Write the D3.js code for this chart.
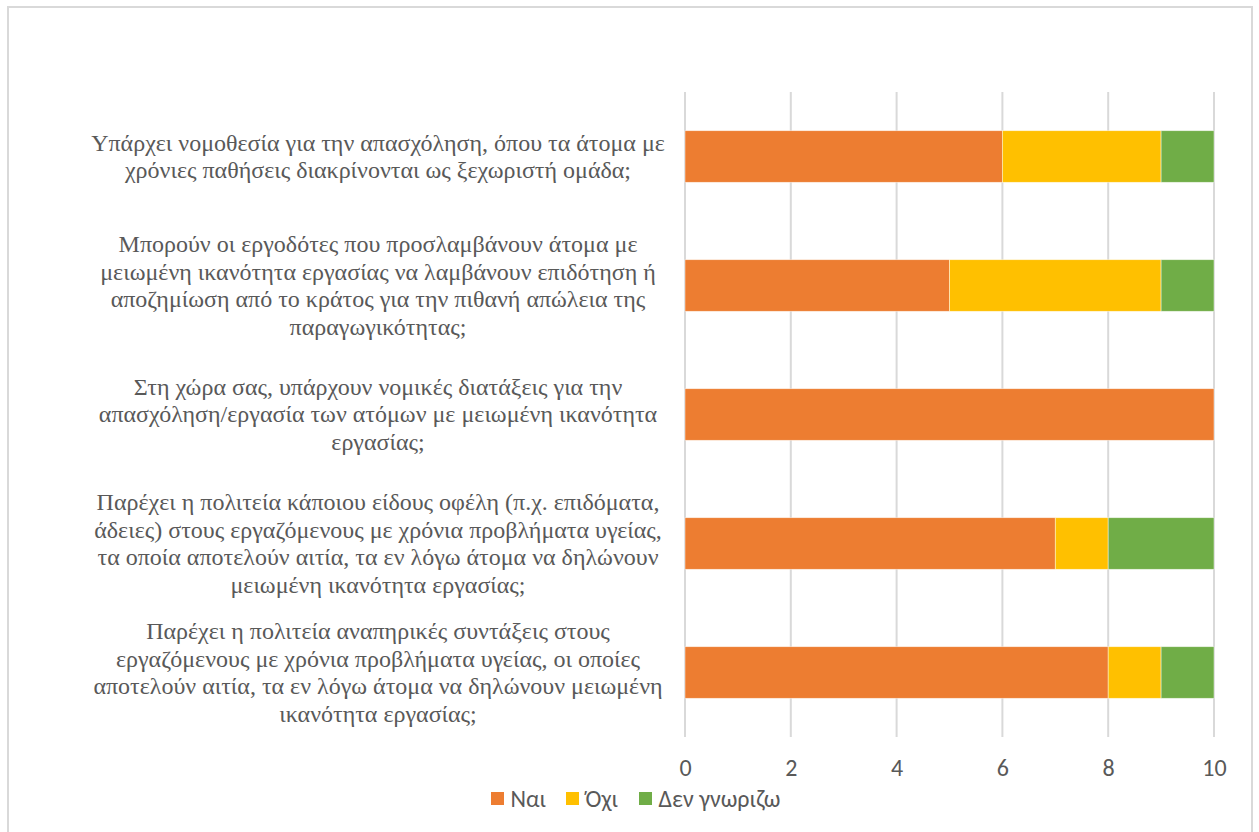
<!DOCTYPE html>
<html><head><meta charset="utf-8">
<script src="https://cdn.jsdelivr.net/npm/d3@7"></script>
<style>
html,body{margin:0;padding:0;background:#fff;overflow:hidden}
.cat{font-family:"Liberation Serif","Times New Roman",serif;font-size:24px;fill:#595959}
.sans{font-family:Carlito,Calibri,"Open Sans",sans-serif;fill:#595959}
</style>
</head><body>
<svg id="chart" width="1259" height="832"></svg>
<script>
const categories = [
  ["Υπάρχει νομοθεσία για την απασχόληση, όπου τα άτομα με", "χρόνιες παθήσεις διακρίνονται ως ξεχωριστή ομάδα;"],
  ["Μπορούν οι εργοδότες που προσλαμβάνουν άτομα με", "μειωμένη ικανότητα εργασίας να λαμβάνουν επιδότηση ή", "αποζημίωση από το κράτος για την πιθανή απώλεια της", "παραγωγικότητας;"],
  ["Στη χώρα σας, υπάρχουν νομικές διατάξεις για την", "απασχόληση/εργασία των ατόμων με μειωμένη ικανότητα", "εργασίας;"],
  ["Παρέχει η πολιτεία κάποιου είδους οφέλη (π.χ. επιδόματα,", "άδειες) στους εργαζόμενους με χρόνια προβλήματα υγείας,", "τα οποία αποτελούν αιτία, τα εν λόγω άτομα να δηλώνουν", "μειωμένη ικανότητα εργασίας;"],
  ["Παρέχει η πολιτεία αναπηρικές συντάξεις στους", "εργαζόμενους με χρόνια προβλήματα υγείας, οι οποίες", "αποτελούν αιτία, τα εν λόγω άτομα να δηλώνουν μειωμένη", "ικανότητα εργασίας;"]
];
const seriesNames = ["Ναι", "Όχι", "Δεν γνωριζω"];
const nai = [6, 5, 10, 7, 8];
const oxi = [3, 4, 0, 1, 1];
const denGnorizo = [1, 1, 0, 2, 1];
const xTicks = [0, 2, 4, 6, 8, 10];
const colors = ["#ED7D31", "#FFC000", "#70AD47"];

const svg = d3.select("#chart");
svg.append("rect").attr("x", 8).attr("y", 7).attr("width", 1244).attr("height", 840)
  .attr("fill", "#fff").attr("stroke", "#d9d9d9").attr("stroke-width", 2);

const pLeft = 685, pRight = 1214, pTop = 92, pBottom = 737;
const x = d3.scaleLinear().domain([0, 10]).range([pLeft, pRight]);
const y = d3.scaleBand().domain(d3.range(categories.length)).range([pTop, pBottom]).paddingInner(0.6).paddingOuter(0.3);

svg.append("g").selectAll("line").data(xTicks).join("line")
  .attr("x1", d => x(d)).attr("x2", d => x(d)).attr("y1", pTop).attr("y2", pBottom)
  .attr("stroke", "#d9d9d9").attr("stroke-width", 2);

const rows = categories.map((c, i) => ({i, "Ναι": nai[i], "Όχι": oxi[i], "Δεν γνωριζω": denGnorizo[i]}));
const stacked = d3.stack().keys(seriesNames)(rows);

svg.append("g").selectAll("g").data(stacked).join("g")
  .attr("fill", (d, k) => colors[k])
  .selectAll("rect").data(d => d).join("rect")
  .attr("x", d => x(d[0])).attr("width", d => x(d[1]) - x(d[0]))
  .attr("y", d => y(d.data.i)).attr("height", y.bandwidth())
  .attr("stroke", "#fff").attr("stroke-width", 0.75).attr("stroke-opacity", 0.6);

const lh = 27.6;
const lab = svg.append("g").attr("text-anchor", "middle");
categories.forEach((lines, i) => {
  const cy = y(i) + y.bandwidth() / 2;
  const n = lines.length;
  lines.forEach((t, j) => {
    lab.append("text").attr("class", "cat").attr("x", 378).attr("y", cy + (j - (n - 1) / 2) * lh).attr("dy", "0.33em").text(t);
  });
});

const axis = d3.axisBottom(x).tickValues(xTicks).tickSize(0).tickPadding(0);
const ag = svg.append("g").attr("transform", `translate(0,${768})`).call(axis);
ag.attr("font-family", null).attr("font-size", null);
ag.select(".domain").remove();
ag.selectAll("text").attr("class", "sans").style("font-size", "24px").attr("fill", null).attr("dy", "0.33em").attr("y", 0);

const legendX = [491, 566, 639];
const lg = svg.append("g");
seriesNames.forEach((s, k) => {
  lg.append("rect").attr("x", legendX[k]).attr("y", 792).attr("width", 13).attr("height", 13).attr("fill", colors[k]);
  lg.append("text").attr("class", "sans").attr("x", legendX[k] + 19.5).attr("y", 799.5).attr("dy", "0.33em")
    .style("font-size", "24px").text(s);
});
</script>
</body></html>
